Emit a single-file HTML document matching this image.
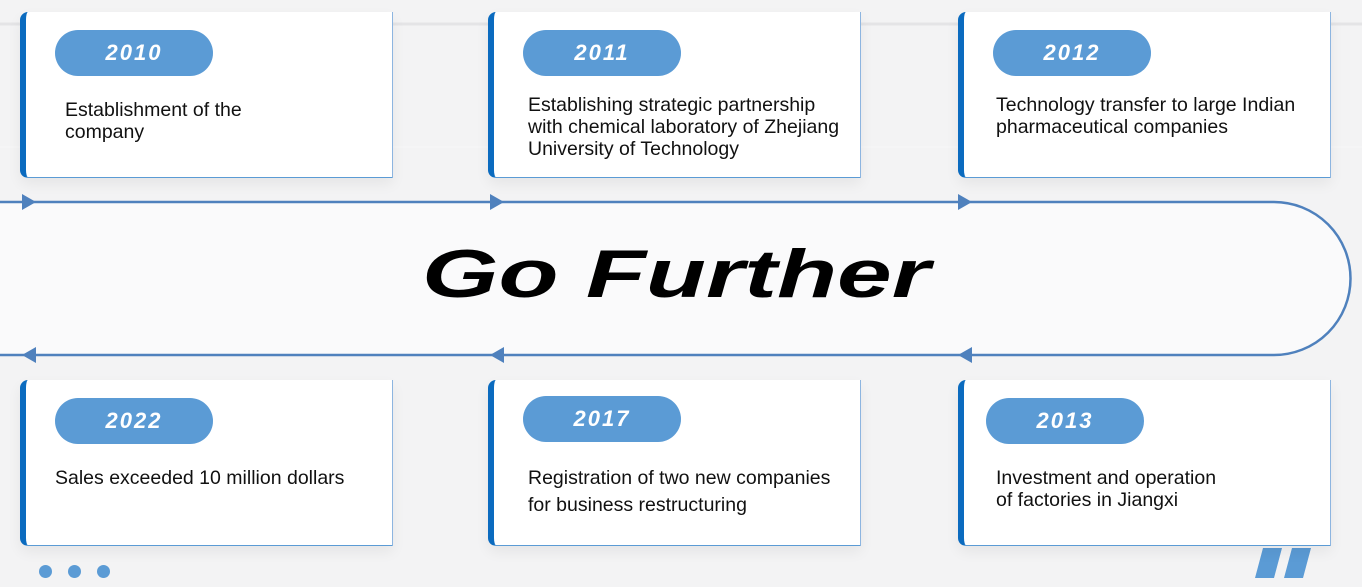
<!DOCTYPE html>
<html><head><meta charset="utf-8"><style>
body{margin:0;width:1362px;height:587px;overflow:hidden;background:#f3f3f4;font-family:"Liberation Sans",sans-serif;position:relative}
.card{position:absolute;width:373px;height:166px;background:#fff;border-left:6px solid #0b6bbf;border-radius:8px 0 0 8px;box-shadow:0 6px 14px rgba(0,0,0,.06);border-bottom:1px solid #5b9bd5;border-right:1px solid #8db5e0;box-sizing:border-box}
.pill{position:absolute;left:29px;top:18px;width:158px;height:46px;border-radius:23px;background:#5b9bd5;color:#fff;font:italic bold 22px "Liberation Sans",sans-serif;text-align:center;line-height:46px;letter-spacing:2px}
.t{position:absolute;font-size:19.5px;line-height:22px;color:#111;white-space:nowrap}
.dot{position:absolute;width:13px;height:13px;border-radius:50%;background:#5b9bd5;top:565px}
</style></head><body>
<svg width="1362" height="587" style="position:absolute;left:0;top:0">
<path d="M0 24 H1362" stroke="#e4e4e6" stroke-width="3"/>
<path d="M0 147 H1362" stroke="#f7f7f8" stroke-width="1"/>
<path d="M0 202 H1274 A76.5 76.5 0 0 1 1274 355 H0 Z" fill="#fafafb"/>
<path d="M0 202 H1274 A76.5 76.5 0 0 1 1274 355 H0" fill="none" stroke="#4f81bd" stroke-width="2.5"/>
<g fill="#4f81bd">
<polygon points="22,194 36,202 22,210"/><polygon points="490,194 504,202 490,210"/><polygon points="958,194 972,202 958,210"/>
<polygon points="36,347 22,355 36,363"/><polygon points="504,347 490,355 504,363"/><polygon points="972,347 958,355 972,363"/>
</g>
<text x="422" y="297" font-family="Liberation Sans" font-weight="bold" font-style="italic" font-size="68" textLength="508" lengthAdjust="spacingAndGlyphs" fill="#000">Go Further</text>
<g fill="#5b9bd5"><polygon points="1263,548 1282,548 1274,578 1255,578"/><polygon points="1292,548 1311,548 1303,578 1284,578"/></g>
</svg>
<div class="card" style="left:20px;top:12px"><div class="pill">2010</div><div class="t" style="left:39px;top:87px">Establishment of the<br>company</div></div>
<div class="card" style="left:488px;top:12px"><div class="pill">2011</div><div class="t" style="left:34px;top:82px">Establishing strategic partnership<br>with chemical laboratory of Zhejiang<br>University of Technology</div></div>
<div class="card" style="left:958px;top:12px"><div class="pill">2012</div><div class="t" style="left:32px;top:82px">Technology transfer to large Indian<br>pharmaceutical companies</div></div>
<div class="card" style="left:20px;top:380px"><div class="pill">2022</div><div class="t" style="left:29px;top:87px">Sales exceeded 10 million dollars</div></div>
<div class="card" style="left:488px;top:380px"><div class="pill" style="top:16px">2017</div><div class="t" style="left:34px;top:85px;line-height:27px">Registration of two new companies<br>for business restructuring</div></div>
<div class="card" style="left:958px;top:380px"><div class="pill" style="left:22px">2013</div><div class="t" style="left:32px;top:87px">Investment and operation<br>of factories in Jiangxi</div></div>
<div class="dot" style="left:39px"></div><div class="dot" style="left:68px"></div><div class="dot" style="left:97px"></div>
</body></html>
